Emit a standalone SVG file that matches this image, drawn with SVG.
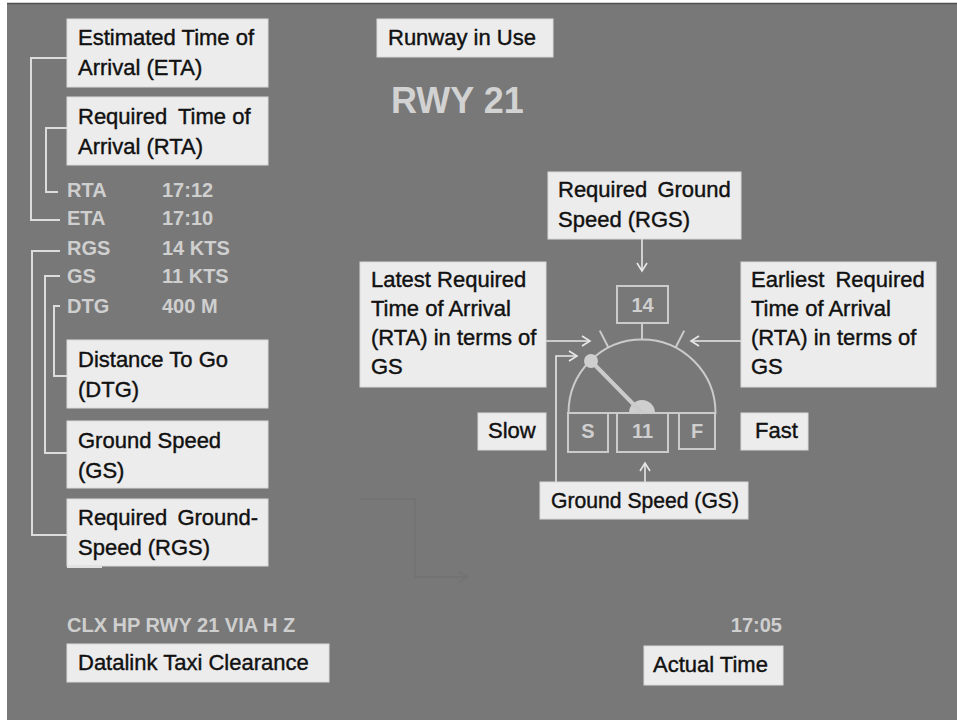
<svg xmlns="http://www.w3.org/2000/svg" width="957" height="720" viewBox="0 0 957 720">
<style>
.box{fill:#ececec;stroke:#dadada;stroke-width:1}
.bt{font-family:"Liberation Sans",Arial,sans-serif;font-size:22px;fill:#111111;stroke:#111111;stroke-width:0.4}
.gt{font-family:"Liberation Sans",Arial,sans-serif;font-size:20px;font-weight:bold;fill:#cfcfcf}
.big{font-family:"Liberation Sans",Arial,sans-serif;font-size:36px;font-weight:bold;fill:#d2d2d2}
.lead{fill:none;stroke:#dcdcdc;stroke-width:2}
.arw{fill:none;stroke:#e8e8e8;stroke-width:1.6;marker-end:url(#arr)}
.faint{fill:none;stroke:#737373;stroke-width:2;marker-end:url(#arrf)}
.g{fill:none;stroke:#cbcbcb;stroke-width:2}
.gf{fill:#cfcfcf;stroke:none}
</style>
<defs>
<marker id="arr" markerUnits="userSpaceOnUse" markerWidth="12" markerHeight="12" refX="10" refY="6" orient="auto">
<path d="M2,1 L10,6 L2,11" fill="none" stroke="#e8e8e8" stroke-width="1.6"/>
</marker>
<marker id="arrf" markerUnits="userSpaceOnUse" markerWidth="12" markerHeight="12" refX="10" refY="6" orient="auto">
<path d="M2,1 L10,6 L2,11" fill="none" stroke="#737373" stroke-width="2"/>
</marker>
</defs>
<rect x="0" y="0" width="957" height="720" fill="#ffffff"/>
<rect x="7" y="3" width="950" height="717" fill="#787878"/>
<line x1="7" y1="3.5" x2="957" y2="3.5" stroke="#4f4f4f" stroke-width="1.5"/>

<g id="connectors">
<polyline class="lead" points="67,58 31,58 31,220 60,220"/>
<polyline class="lead" points="67,128 46,128 46,192 58,192"/>
<polyline class="lead" points="60,251 32,251 32,535 67,535"/>
<polyline class="lead" points="60,276 45,276 45,453 67,453"/>
<polyline class="lead" points="60,306 54,306 54,376 67,376"/>
<line class="arw" x1="642" y1="239" x2="642" y2="271"/>
<line class="arw" x1="546" y1="341" x2="590" y2="341"/>
<line class="arw" x1="741" y1="341" x2="691" y2="341"/>
<line class="arw" x1="645" y1="482" x2="645" y2="463"/>
<polyline class="arw" points="556,482 556,356 577,356"/>
<polyline class="faint" points="361,499 415,499 415,577 467,577"/>
</g>

<g id="eta">
<rect class="box" x="67" y="19" width="201" height="68"/>
<text class="bt" x="78" y="45">Estimated Time of</text>
<text class="bt" x="78" y="75">Arrival (ETA)</text>
</g>
<g id="rta">
<rect class="box" x="67" y="97" width="201" height="68"/>
<text class="bt" x="78" y="124">Required <tspan dx="5">Time of</tspan></text>
<text class="bt" x="78" y="154">Arrival (RTA)</text>
</g>
<g id="values">
<text class="gt" x="67" y="197">RTA</text><text class="gt" x="162" y="197">17:12</text>
<text class="gt" x="67" y="225">ETA</text><text class="gt" x="162" y="225">17:10</text>
<text class="gt" x="67" y="255">RGS</text><text class="gt" x="162" y="255">14 KTS</text>
<text class="gt" x="67" y="283">GS</text><text class="gt" x="162" y="283">11 KTS</text>
<text class="gt" x="67" y="313">DTG</text><text class="gt" x="162" y="313">400 M</text>
</g>
<g id="dtg">
<rect class="box" x="67" y="340" width="201" height="68"/>
<text class="bt" x="78" y="367">Distance To Go</text>
<text class="bt" x="78" y="397">(DTG)</text>
</g>
<g id="gs">
<rect class="box" x="67" y="421" width="201" height="67"/>
<text class="bt" x="78" y="448">Ground Speed</text>
<text class="bt" x="78" y="478">(GS)</text>
</g>
<g id="rgs">
<rect class="box" x="67" y="499" width="201" height="67"/>
<rect x="67" y="565" width="35" height="3" fill="#e2e2e2"/>
<text class="bt" x="78" y="525">Required <tspan dx="4">Ground-</tspan></text>
<text class="bt" x="78" y="555">Speed (RGS)</text>
</g>
<g id="clearance">
<text class="gt" x="67" y="632">CLX HP RWY 21 VIA H Z</text>
<rect class="box" x="67" y="644" width="262" height="38"/>
<text class="bt" x="78" y="670">Datalink Taxi Clearance</text>
</g>
<g id="runway">
<rect class="box" x="377" y="19" width="176" height="38"/>
<text class="bt" x="388" y="45">Runway in Use</text>
<text class="big" x="391" y="113">RWY 21</text>
</g>
<g id="rgs-top">
<rect class="box" x="548" y="172" width="193" height="67"/>
<text class="bt" x="558" y="197">Required <tspan dx="4">Ground</tspan></text>
<text class="bt" x="558" y="227">Speed (RGS)</text>
</g>
<g id="latest">
<rect class="box" x="360" y="262" width="186" height="125"/>
<text class="bt" x="371" y="287">Latest Required</text>
<text class="bt" x="371" y="316">Time of Arrival</text>
<text class="bt" x="371" y="345">(RTA) in terms of</text>
<text class="bt" x="371" y="374">GS</text>
</g>
<g id="earliest">
<rect class="box" x="741" y="262" width="195" height="125"/>
<text class="bt" x="751" y="287">Earliest <tspan dx="5">Required</tspan></text>
<text class="bt" x="751" y="316">Time of Arrival</text>
<text class="bt" x="751" y="345">(RTA) in terms of</text>
<text class="bt" x="751" y="374">GS</text>
</g>
<g id="gauge">
<rect class="g" x="617" y="286" width="51" height="37"/>
<text class="gt" x="642.5" y="312" text-anchor="middle">14</text>
<line class="g" x1="642" y1="323" x2="642" y2="340"/>
<path class="g" d="M568.5,413 A73.5,73.5 0 0 1 715.5,413 Z"/>
<line class="g" x1="608.4" y1="347.5" x2="599.8" y2="330.6"/>
<line class="g" x1="675.6" y1="347.5" x2="684.2" y2="330.6"/>
<path class="gf" d="M629,413 A13,13 0 0 1 655,413 Z"/>
<line x1="591" y1="361" x2="642" y2="413" stroke="#cbcbcb" stroke-width="4"/>
<circle class="gf" cx="591" cy="361" r="7"/>
<rect class="g" x="568" y="413" width="40" height="39"/>
<rect class="g" x="617" y="413" width="51" height="39"/>
<rect class="g" x="679" y="413" width="36" height="36"/>
<text class="gt" x="588" y="438" text-anchor="middle">S</text>
<text class="gt" x="642.5" y="438" text-anchor="middle">11</text>
<text class="gt" x="697" y="438" text-anchor="middle">F</text>
</g>
<g id="slow">
<rect class="box" x="478" y="413" width="68" height="37"/>
<text class="bt" x="488" y="438">Slow</text>
</g>
<g id="fast">
<rect class="box" x="741" y="413" width="67" height="37"/>
<text class="bt" x="755" y="438">Fast</text>
</g>
<g id="gs-bottom">
<rect class="box" x="540" y="482" width="208" height="37"/>
<text class="bt" x="551" y="508" textLength="188" lengthAdjust="spacingAndGlyphs">Ground Speed (GS)</text>
</g>
<g id="actual">
<text class="gt" x="782" y="632" text-anchor="end">17:05</text>
<rect class="box" x="644" y="646" width="139" height="39"/>
<text class="bt" x="653" y="672">Actual Time</text>
</g>
</svg>
